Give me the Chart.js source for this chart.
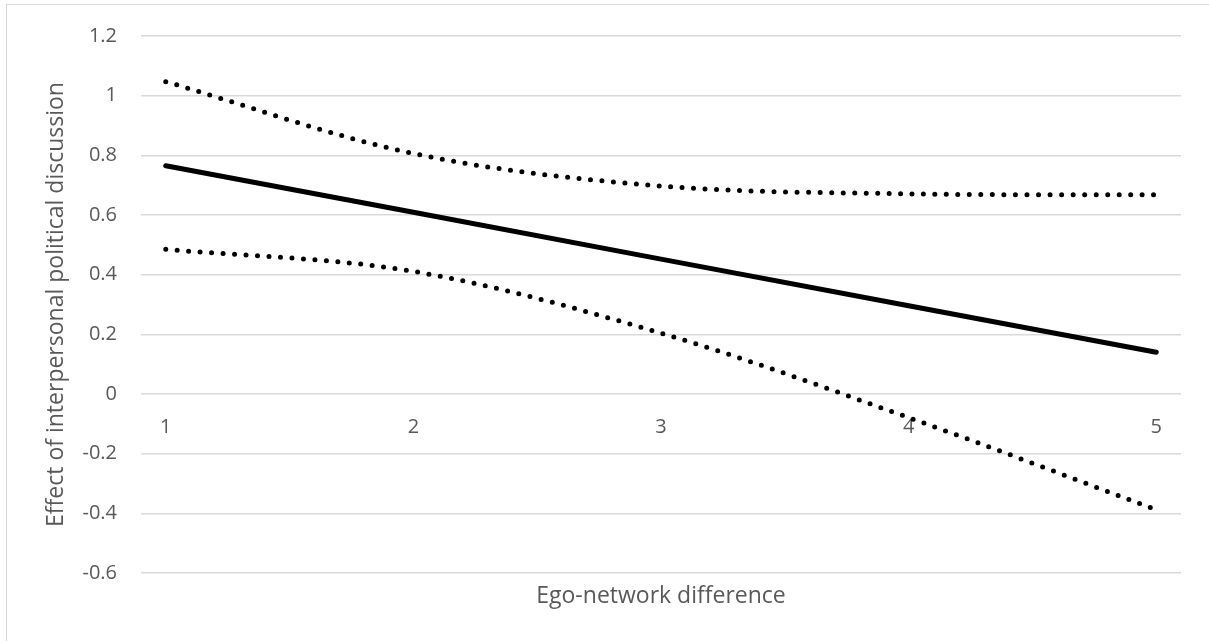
<!DOCTYPE html>
<html>
<head>
<meta charset="utf-8">
<script src="https://cdn.jsdelivr.net/npm/chart.js@4.4.1/dist/chart.umd.min.js"></script>
<style>
  html, body { margin: 0; padding: 0; background: #fff; overflow: hidden; }
  /* light frame of the chart object, only its top and left edge are visible */
  #frame { position: absolute; left: 6px; top: 4px; width: 1400px; height: 900px; border: 1.5px solid #d9d9d9; }
  #wrap { position: absolute; left: 0; top: 0; width: 1209px; height: 641px; }
</style>
</head>
<body>
<div id="frame"></div>
<div id="wrap"><canvas id="chart" width="1209" height="641"></canvas></div>
<script>
// ---- data ----
const categories = [1, 2, 3, 4, 5];
const effect     = [0.765, 0.609, 0.452, 0.296, 0.140];
const upperBound = [1.047, 0.806, 0.697, 0.671, 0.668];
const lowerBound = [0.485, 0.411, 0.204, -0.079, -0.388];
const yTicks     = [-0.6, -0.4, -0.2, 0, 0.2, 0.4, 0.6, 0.8, 1, 1.2];
const xTitle = 'Ego-network difference';
const yTitle = 'Effect of interpersonal political discussion';

// ---- helpers ----
const toPoints = vals => categories.map((x, i) => ({ x, y: vals[i] }));
const GREY = '#595959';
const FONT = 'Open Sans';

Chart.defaults.font.family = FONT;
Chart.defaults.color = GREY;

const dotted = vals => ({
  data: toPoints(vals),
  borderColor: '#000',
  borderWidth: 5,
  borderDash: [0, 11.5],
  borderCapStyle: 'round',
  pointRadius: 0,
  tension: 0.33,
  fill: false
});

new Chart(document.getElementById('chart'), {
  type: 'line',
  data: {
    datasets: [
      dotted(upperBound),
      { data: toPoints(effect), borderColor: '#000', borderWidth: 5, borderCapStyle: 'round',
        pointRadius: 0, tension: 0, fill: false },
      dotted(lowerBound)
    ]
  },
  options: {
    responsive: false,
    animation: false,
    devicePixelRatio: 1,
    layout: { padding: { top: 34, right: 28, left: 0, bottom: 0 } },
    plugins: { legend: { display: false }, tooltip: { enabled: false } },
    scales: {
      x: {
        type: 'linear',
        min: 0.9, max: 5.1,
        position: { y: 0 },
        afterBuildTicks: s => { s.ticks = categories.map(v => ({ value: v })); },
        grid: { display: false, drawTicks: false },
        border: { display: false },
        ticks: { padding: 21, color: GREY, font: { size: 20 }, callback: v => String(v) }
      },
      x2: {
        type: 'linear',
        position: 'bottom',
        min: 0, max: 1,
        grid: { display: false, drawTicks: false },
        border: { display: false },
        ticks: { display: false },
        title: { display: true, text: xTitle, color: GREY, font: { size: 23 }, padding: { top: 0, bottom: 31 } },
        afterFit: s => { s.height = 68; }
      },
      y: {
        min: -0.6, max: 1.2,
        afterBuildTicks: s => { s.ticks = yTicks.map(v => ({ value: v })); },
        grid: { color: '#d9d9d9', lineWidth: 1.5, drawTicks: false },
        border: { display: false },
        ticks: { padding: 24, color: GREY, font: { size: 20 }, callback: v => String(Math.round(v * 10) / 10) },
        title: { display: true, text: yTitle, color: GREY, font: { size: 23 }, padding: { top: 43, bottom: 0 } },
        afterFit: s => { s.width = 141; }
      }
    }
  }
});
</script>
</body>
</html>
